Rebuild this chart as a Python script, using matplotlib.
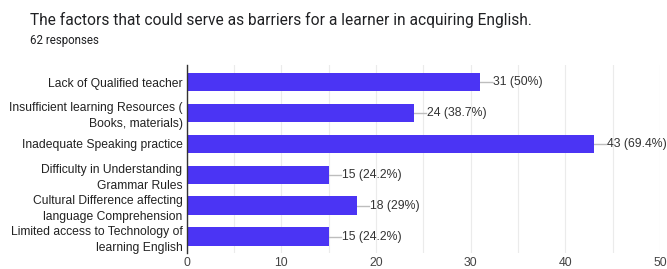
import matplotlib
matplotlib.use("Agg")
import matplotlib.pyplot as plt

categories = [
    "Lack of Qualified teacher",
    "Insufficient learning Resources (\nBooks, materials)",
    "Inadequate Speaking practice",
    "Difficulty in Understanding\nGrammar Rules",
    "Cultural Difference affecting\nlanguage Comprehension",
    "Limited access to Technology of\nlearning English",
]
counts = [31, 24, 43, 15, 18, 15]
percents = ["50%", "38.7%", "69.4%", "24.2%", "29%", "24.2%"]
xticks = [0, 10, 20, 30, 40, 50]

fig = plt.figure(figsize=(6.67, 2.69), dpi=100)
ax = fig.add_axes([0.280, 0.0595, 0.7095, 0.6985])

ypos = list(range(len(categories)))
ax.barh(ypos, counts, height=0.6, color="#4b34f4", zorder=3)
ax.set_ylim(5.53, -0.55)
ax.set_xlim(0, 50)

for x in range(0, 51, 5):
    ax.axvline(x, color="#ebebeb", lw=0.8, zorder=1)

for y, c, p in zip(ypos, counts, percents):
    ax.plot([c, c + 1.3], [y, y], color="#bdbdbd", lw=1, zorder=2, clip_on=False)
    ax.text(c + 1.35, y, f"{c} ({p})", va="center", ha="left",
            fontsize=8.8, family="Liberation Sans", color="#333333")

ax.set_yticks(ypos)
ax.set_yticklabels(categories, fontsize=8.7, family="Liberation Sans",
                   color="#222222", linespacing=1.4)
ax.set_xticks(xticks)
ax.set_xticklabels([str(t) for t in xticks], fontsize=8.8,
                   family="Liberation Sans", color="#444444")
ax.tick_params(axis="both", length=0, pad=3)
ax.tick_params(axis="x", pad=3)
for s in ["top", "right", "bottom"]:
    ax.spines[s].set_visible(False)
ax.spines["left"].set_color("#333333")
ax.spines["left"].set_linewidth(1)
ax.spines["left"].set_zorder(4)

fig.text(30 / 667, 1 - 20 / 269,
         "The factors that could serve as barriers for a learner in acquiring English.",
         fontsize=11.2, family="Roboto", color="#202124", va="center", ha="left")
fig.text(30 / 667, 1 - 41 / 269, "62 responses", fontsize=8.3,
         family="Roboto", color="#202124", va="center", ha="left")

fig.savefig("out.png", dpi=100)
